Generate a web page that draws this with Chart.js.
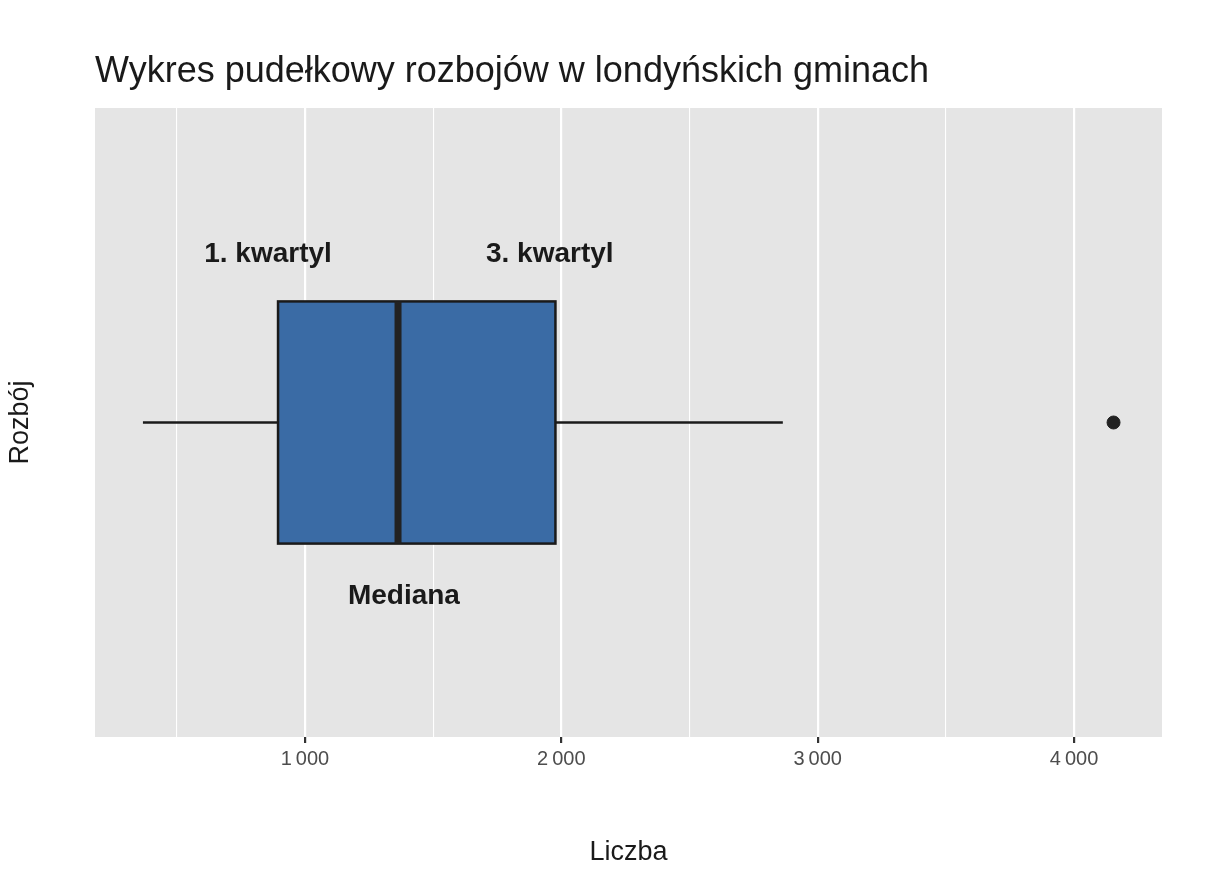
<!DOCTYPE html>
<html><head><meta charset="utf-8">
<script src="https://cdn.jsdelivr.net/npm/chart.js@4"></script>
<style>html,body{margin:0;padding:0;background:#fff}#w{width:1216px;height:873px}</style>
</head><body><div id="w"><canvas id="c"></canvas></div>
<script>
const seriesName = "Rozbój";
const whiskerLow = 368, q1 = 895, median = 1363, q3 = 1977, whiskerHigh = 2864;
const outliers = [4154];
const annotations = [
  {text: "1. kwartyl", x: 856, y: 0.536},
  {text: "3. kwartyl", x: 1955, y: 0.536},
  {text: "Mediana", x: 1386, y: -0.552}
];
const fmt = v => String(v).replace(/\B(?=(\d{3})+(?!\d))/g, "\u2009");
const F = "'Liberation Sans', Arial, sans-serif";
const boxHalf = 0.385;

const boxPlugin = {
  id: 'box',
  beforeDraw(ch) {
    const {ctx, chartArea: a} = ch;
    ctx.save(); ctx.fillStyle = '#fff'; ctx.fillRect(0,0,ch.width,ch.height);
    ctx.fillStyle = '#e5e5e5'; ctx.fillRect(a.left, a.top, a.right-a.left, a.bottom-a.top);
    ctx.fillStyle = '#1a1a1a'; ctx.font = "36px " + F; ctx.textBaseline = 'alphabetic';
    ctx.fillText("Wykres pudełkowy rozbojów w londyńskich gminach", a.left, 82);
    ctx.restore();
  },
  afterDatasetsDraw(ch) {
    const {ctx, scales: {x, y}} = ch;
    ctx.save();
    const l = x.getPixelForValue(q1), r = x.getPixelForValue(q3);
    const t = y.getPixelForValue(boxHalf), b = y.getPixelForValue(-boxHalf);
    ctx.fillStyle = '#3a6ba5'; ctx.fillRect(l, t, r-l, b-t);
    ctx.strokeStyle = '#1a1a1a'; ctx.lineWidth = 2.5; ctx.strokeRect(l, t, r-l, b-t);
    const m = x.getPixelForValue(median);
    ctx.lineWidth = 7; ctx.strokeStyle = '#222'; ctx.beginPath(); ctx.moveTo(m, t); ctx.lineTo(m, b); ctx.stroke();
    ctx.fillStyle = '#1a1a1a'; ctx.font = "bold 28px " + F; ctx.textAlign = 'center'; ctx.textBaseline = 'middle';
    annotations.forEach(an => ctx.fillText(an.text, x.getPixelForValue(an.x), y.getPixelForValue(an.y)));
    ctx.restore();
  }
};

new Chart(document.getElementById('c'), {
  type: 'scatter',
  data: { datasets: [
    {data: [{x: whiskerLow, y: 0}, {x: q1, y: 0}], showLine: true, borderColor: '#1a1a1a', borderWidth: 2.5, pointRadius: 0},
    {data: [{x: q3, y: 0}, {x: whiskerHigh, y: 0}], showLine: true, borderColor: '#1a1a1a', borderWidth: 2.5, pointRadius: 0},
    {data: outliers.map(v => ({x: v, y: 0})), pointRadius: 6.5, backgroundColor: '#222', borderColor: '#222'}
  ]},
  options: {
    responsive: true, maintainAspectRatio: false, animation: false,
    layout: {padding: {top: 108, right: 54}},
    plugins: {legend: {display: false}, tooltip: {enabled: false}},
    scales: {
      x: {min: 181, max: 4343, afterFit(s){s.height = 136;},
        afterBuildTicks(s){ s.ticks = []; for (let v = 500; v <= 4000; v += 500) s.ticks.push({value: v}); },
        border: {display: false},
        grid: {color: '#fff', lineWidth: c => (c.tick && c.tick.value % 1000 === 0) ? 2.2 : 1.1, tickLength: 6, tickColor: c => (c.tick && c.tick.value % 1000 === 0) ? '#333' : 'rgba(0,0,0,0)'},
        ticks: {autoSkip: false, maxRotation: 0, color: '#4d4d4d', font: {size: 20, family: F}, padding: 4,
          callback: v => v % 1000 === 0 ? fmt(v) : ''},
        title: {display: true, text: 'Liczba', color: '#1a1a1a', font: {size: 27, family: F}, padding: {top: 2}}
      },
      y: {min: -1, max: 1, afterFit(s){s.width = 95;}, border: {display: false},
        grid: {display: false}, ticks: {display: false},
        title: {display: true, text: seriesName, color: '#1a1a1a', font: {size: 27, family: F}, padding: {bottom: 12}}
      }
    }
  },
  plugins: [boxPlugin]
});
</script></body></html>
